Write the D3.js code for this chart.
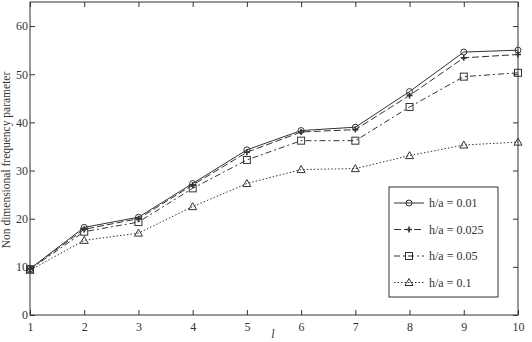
<!DOCTYPE html>
<html><head><meta charset="utf-8">
<script src="https://cdn.jsdelivr.net/npm/d3@7/dist/d3.min.js"></script>
<style>body{margin:0;background:#fff}svg{display:block}text{font-family:"Liberation Serif","DejaVu Serif",serif;fill:#333}</style>
</head><body><svg id="c" width="532" height="342"></svg>
<script>
const xs = [1,2,3,4,5,6,7,8,9,10];
const s001 = [9.6,18.2,20.3,27.3,34.3,38.3,39.0,46.4,54.6,55.0];
const s0025 = [9.6,17.8,20.0,27.0,33.8,38.0,38.5,45.6,53.4,54.1];
const s005 = [9.5,17.3,19.3,26.3,32.2,36.2,36.2,43.2,49.5,50.3];
const s01 = [9.3,15.5,17.0,22.5,27.3,30.2,30.4,33.1,35.3,35.9];
const labels = ["h/a = 0.01","h/a = 0.025","h/a = 0.05","h/a = 0.1"];
const yTicks = [0,10,20,30,40,50,60];
const series = [
 {vals:s001, dash:null, marker:"circle"},
 {vals:s0025, dash:"7,3", marker:"plus"},
 {vals:s005, dash:"6,3,2,3", marker:"square"},
 {vals:s01, dash:"1.5,2", marker:"triangle"}
];
const svg = d3.select("#c");
const L=30,R=518,T=2,B=315;
const x = d3.scaleLinear().domain([1,10]).range([L,R]);
const y = d3.scaleLinear().domain([0,65]).range([B,T]);
const col="#333";
svg.append("rect").attr("x",L).attr("y",T).attr("width",R-L).attr("height",B-T).attr("fill","none").attr("stroke",col).attr("stroke-width",1);
const ax = svg.append("g").attr("transform",`translate(0,${B})`).call(d3.axisBottom(x).tickValues(xs).tickFormat(d3.format("d")).tickSizeInner(-5).tickSizeOuter(0).tickPadding(7));
const ay = svg.append("g").attr("transform",`translate(${L},0)`).call(d3.axisLeft(y).tickValues(yTicks).tickSizeInner(-5).tickSizeOuter(0).tickPadding(2));
const axt = svg.append("g").attr("transform",`translate(0,${T})`).call(d3.axisTop(x).tickValues(xs).tickFormat("").tickSizeInner(-5).tickSizeOuter(0));
const ayr = svg.append("g").attr("transform",`translate(${R},0)`).call(d3.axisRight(y).tickValues(yTicks).tickFormat("").tickSizeInner(-5).tickSizeOuter(0));
[ax,ay,axt,ayr].forEach(g=>{g.select(".domain").remove();g.selectAll("line").attr("stroke",col);g.selectAll("text").attr("font-family","Liberation Serif").attr("font-size",12).attr("fill",col);});
svg.append("text").attr("x",273).attr("y",338).attr("font-style","italic").attr("font-size",12).attr("text-anchor","middle").text("l");
svg.append("text").attr("transform","translate(10,160) rotate(-90)").attr("font-size",11.5).attr("text-anchor","middle").text("Non dimensional frequency parameter");
function marker(g,type,cx,cy){
 if(type==="circle") g.append("circle").attr("cx",cx).attr("cy",cy).attr("r",3).attr("fill","none").attr("stroke",col);
 else if(type==="square") g.append("rect").attr("x",cx-3.5).attr("y",cy-3.5).attr("width",7).attr("height",7).attr("fill","none").attr("stroke",col);
 else if(type==="plus"){g.append("path").attr("d",`M${cx-3},${cy}H${cx+3}M${cx},${cy-3}V${cy+3}`).attr("stroke",col).attr("stroke-width",1.6);}
 else if(type==="triangle") g.append("path").attr("d",`M${cx},${cy-4}L${cx+4},${cy+3}L${cx-4},${cy+3}Z`).attr("fill","none").attr("stroke",col);
}
const line = d3.line().x((d,i)=>x(xs[i])).y(d=>y(d));
series.forEach(s=>{
 const g=svg.append("g");
 g.append("path").attr("d",line(s.vals)).attr("fill","none").attr("stroke",col).attr("stroke-width",1).attr("stroke-dasharray",s.dash);
 s.vals.forEach((v,i)=>marker(g,s.marker,x(xs[i]),y(v)));
});
const lg = svg.append("g");
lg.append("rect").attr("x",389).attr("y",187).attr("width",109).attr("height",110).attr("fill","#fff").attr("stroke",col);
series.forEach((s,i)=>{
 const yy=203+i*26.5;
 lg.append("line").attr("x1",394).attr("x2",424).attr("y1",yy).attr("y2",yy).attr("stroke",col).attr("stroke-dasharray",s.dash);
 marker(lg,s.marker,409,yy);
 lg.append("text").attr("x",429).attr("y",yy+4).attr("font-size",12).text(labels[i]);
});
</script></body></html>
